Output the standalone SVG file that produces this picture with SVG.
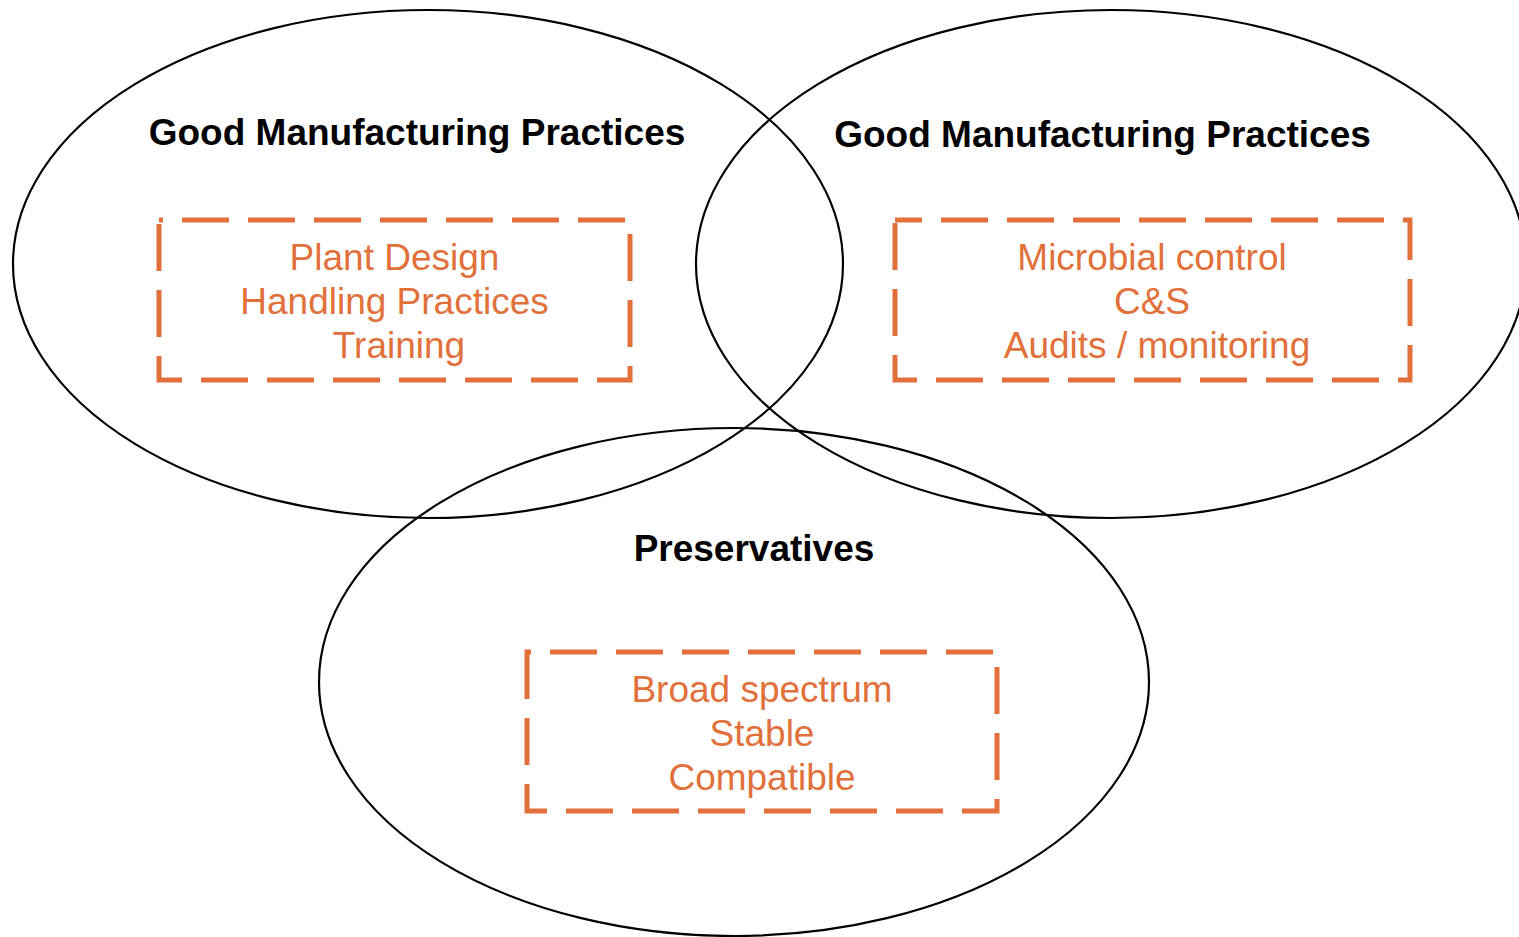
<svg xmlns="http://www.w3.org/2000/svg" width="1519" height="937" viewBox="0 0 1519 937">
  <style>
    .set { fill: none; stroke: #000000; stroke-width: 2.2; }
    .box { fill: none; stroke: #E1703A; stroke-width: 5; stroke-dasharray: 47 19; stroke-linejoin: miter; }
    .title { font-family: "Liberation Sans", Arial, sans-serif; font-weight: bold; font-size: 37px; fill: #000000; text-anchor: middle; }
    .item { font-family: "Liberation Sans", Arial, sans-serif; font-size: 37px; fill: #E1703A; text-anchor: middle; }
  </style>
  <rect width="1519" height="937" fill="#ffffff"/>

  <!-- Overlapping circles -->
  <g id="circle-gmp-left">
    <ellipse class="set" cx="428" cy="264" rx="415" ry="254"/>
  </g>
  <g id="circle-gmp-right">
    <ellipse class="set" cx="1111" cy="264" rx="415" ry="254"/>
  </g>
  <g id="circle-preservatives">
    <ellipse class="set" cx="734" cy="682" rx="415" ry="254"/>
  </g>

  <!-- Left set: title and item box -->
  <g id="node-gmp-left">
    <text class="title" x="417" y="144.5">Good Manufacturing Practices</text>
    <path class="box" style="stroke-dashoffset:43" d="M159 220 H630 V380 H159 Z"/>
    <text class="item" x="394.5" y="269.5">Plant Design</text>
    <text class="item" x="394.5" y="313.5">Handling Practices</text>
    <text class="item" x="399" y="357.5">Training</text>
  </g>

  <!-- Right set: title and item box -->
  <g id="node-gmp-right">
    <text class="title" x="1102.5" y="147">Good Manufacturing Practices</text>
    <path class="box" style="stroke-dashoffset:20" d="M895 220 H1410 V380 H895 Z"/>
    <text class="item" x="1152" y="269.5">Microbial control</text>
    <text class="item" x="1152" y="313.5">C&amp;S</text>
    <text class="item" x="1157" y="357.5">Audits / monitoring</text>
  </g>

  <!-- Bottom set: title and item box -->
  <g id="node-preservatives">
    <text class="title" x="754" y="561">Preservatives</text>
    <path class="box" style="stroke-dashoffset:43" d="M527 652 H997 V811 H527 Z"/>
    <text class="item" x="762" y="702">Broad spectrum</text>
    <text class="item" x="762" y="746">Stable</text>
    <text class="item" x="762" y="790">Compatible</text>
  </g>

  <!-- No connectors in this diagram -->
  <g id="connectors"/>
</svg>
